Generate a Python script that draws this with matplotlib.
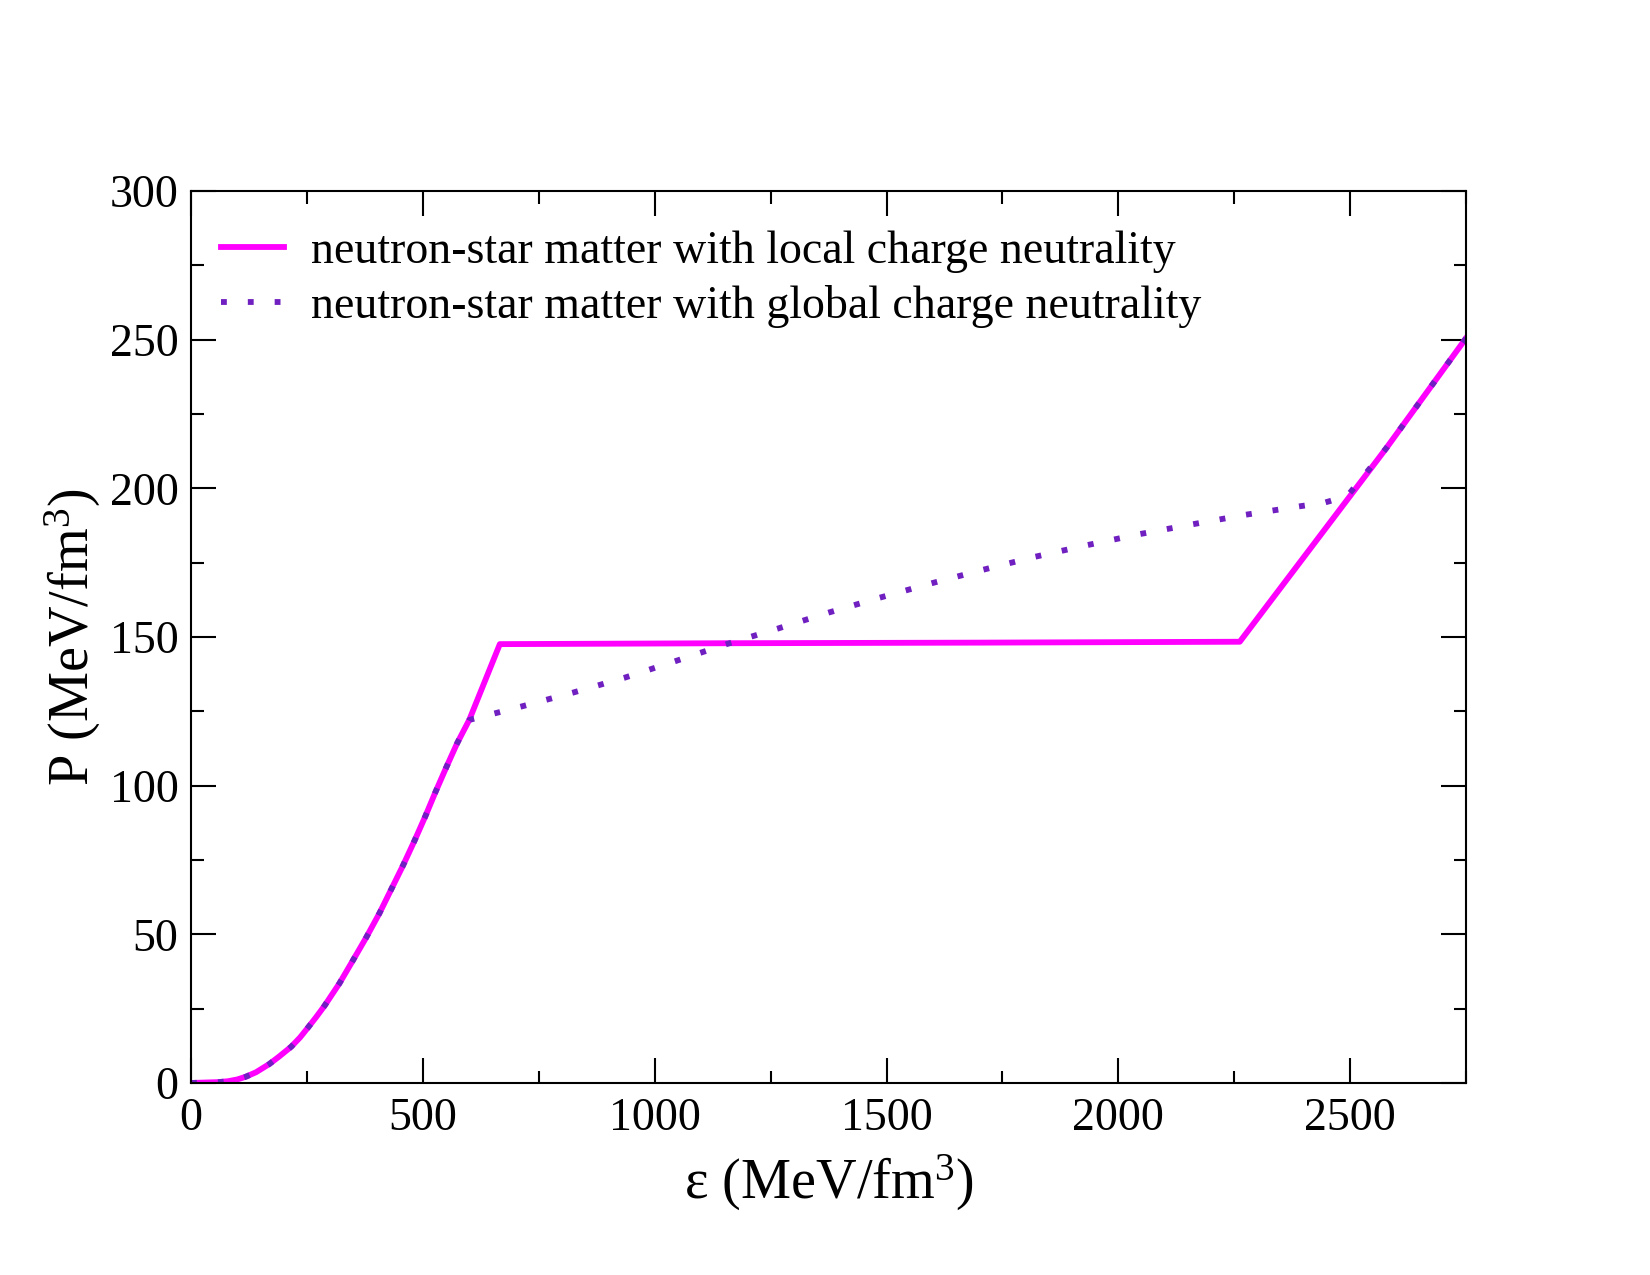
import matplotlib
matplotlib.use("Agg")
import matplotlib.pyplot as plt
from matplotlib.ticker import MultipleLocator

plt.rcParams['font.family'] = ['Liberation Serif', 'DejaVu Serif']
plt.rcParams['mathtext.fontset'] = 'custom'
plt.rcParams['mathtext.rm'] = 'Liberation Serif'
plt.rcParams['mathtext.it'] = 'Liberation Serif:italic'

# energy density (MeV/fm^3) and pressure (MeV/fm^3)
local_eps = [0, 60, 80, 100, 118, 140, 169, 190, 216, 235, 252, 270, 288,
             320, 349, 378, 406, 432, 457, 482, 505, 527, 550, 574, 600, 666,
             1155, 1700, 2262, 2578, 2750]
local_P = [0, 0.3, 0.6, 1.2, 2.1, 3.6, 6.4, 8.9, 12.2, 15.3, 18.6, 22.2,
           26.0, 33.5, 41.2, 49.0, 57.0, 65.2, 73.1, 81.5, 89.6, 97.8, 106.0,
           114.3, 122.1, 147.6, 147.9, 148.1, 148.4, 213.5, 250.5]

global_eps = [0, 60, 80, 100, 118, 140, 169, 190, 216, 235, 252, 270, 288,
              320, 349, 378, 406, 432, 457, 482, 505, 527, 550, 574, 600, 712,
              824, 935, 1045, 1155, 1265, 1375, 1485, 1598, 1708, 1821, 1933,
              2046, 2160, 2274, 2389, 2445, 2494, 2578, 2750]
global_P = [0, 0.3, 0.6, 1.2, 2.1, 3.6, 6.4, 8.9, 12.2, 15.3, 18.6, 22.2,
            26.0, 33.5, 41.2, 49.0, 57.0, 65.2, 73.1, 81.5, 89.6, 97.8, 106.0,
            114.3, 122.1, 126.6, 131.3, 136.3, 141.9, 147.6, 152.8, 158.2,
            163.2, 168.1, 172.6, 177.0, 180.9, 184.6, 187.9, 191.1, 193.9,
            195.2, 197.4, 213.5, 250.5]

fig = plt.figure(figsize=(11, 8.5), dpi=150)
ax = fig.add_axes([0.1158, 0.1506, 0.7727, 0.6996])

ax.plot(local_eps, local_P, color='#ff00ff', lw=2.8,
        label='neutron-star matter with local charge neutrality')
ax.plot(global_eps, global_P, color='#7020c0', lw=2.8, linestyle=(0, (1, 3.6)),
        label='neutron-star matter with global charge neutrality')

ax.set_xlim(0, 2750)
ax.set_ylim(0, 300)
ax.xaxis.set_major_locator(MultipleLocator(500))
ax.xaxis.set_minor_locator(MultipleLocator(250))
ax.yaxis.set_major_locator(MultipleLocator(50))
ax.yaxis.set_minor_locator(MultipleLocator(25))
ax.tick_params(which='both', direction='in', top=True, right=True, width=1.0,
               labelsize=22)
ax.tick_params(which='major', length=12)
ax.tick_params(which='minor', length=6)
ax.tick_params(axis='x', pad=7)
ax.tick_params(axis='y', pad=6)
for s in ax.spines.values():
    s.set_linewidth(1.0)

ax.set_xlabel(r'ε (MeV/fm$^{3}$)', fontsize=27, labelpad=6)
ax.set_ylabel(r'P (MeV/fm$^{3}$)', fontsize=27, labelpad=3)

ax.legend(loc='upper left', frameon=False, fontsize=22, handlelength=1.38,
          handletextpad=0.58, labelspacing=0.25, borderpad=0.3,
          borderaxespad=0.35, bbox_to_anchor=(0.0, 0.989))

fig.savefig('out.png', dpi=150)
